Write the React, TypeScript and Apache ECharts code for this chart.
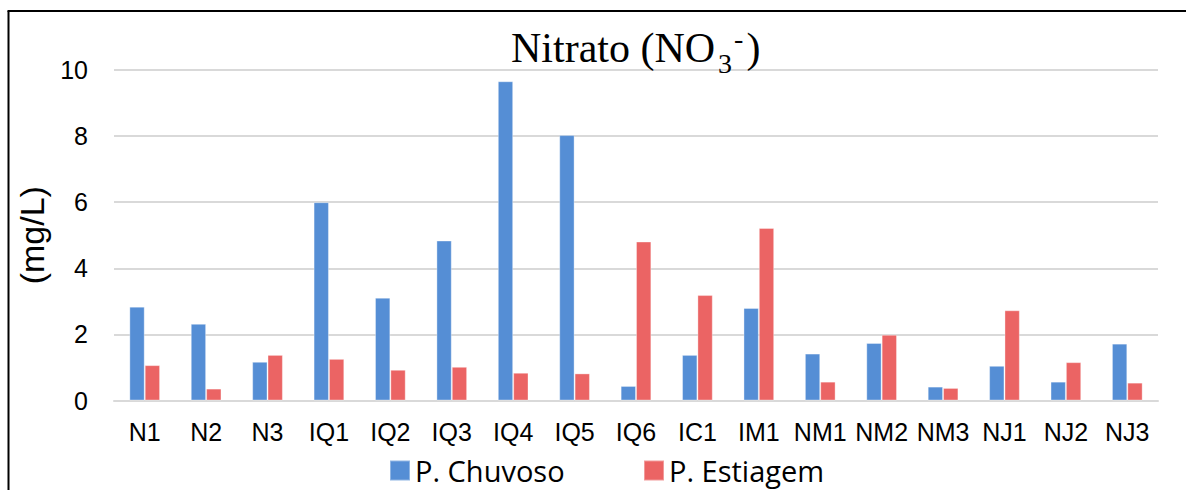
import React, { useEffect, useRef } from "react";
import * as echarts from "echarts";

const categories = ["N1", "N2", "N3", "IQ1", "IQ2", "IQ3", "IQ4", "IQ5", "IQ6", "IC1", "IM1", "NM1", "NM2", "NM3", "NJ1", "NJ2", "NJ3"];
const chuvoso = [2.84, 2.32, 1.17, 6.0, 3.11, 4.84, 9.66, 8.03, 0.44, 1.38, 2.8, 1.42, 1.74, 0.42, 1.05, 0.57, 1.72];
const estiagem = [1.07, 0.36, 1.38, 1.26, 0.93, 1.02, 0.84, 0.82, 4.81, 3.19, 5.22, 0.57, 1.99, 0.38, 2.73, 1.16, 0.54];
const seriesNames = ["P. Chuvoso", "P. Estiagem"];
const yTicks = { min: 0, max: 10, interval: 2 };

export default function App() {
  const ref = useRef<HTMLDivElement>(null);
  useEffect(() => {
    document.body.style.margin = "0";
    const chart = echarts.init(ref.current!, null, { renderer: "svg" });
    const legendText = { fontFamily: "Open Sans", fontSize: 29, color: "#000" };
    const serif = { fontFamily: "Liberation Serif", fontWeight: "normal", color: "#000" };
    chart.setOption({
      animation: false,
      backgroundColor: "#fff",
      title: {
        left: 505,
        top: 14,
        text: "{a|Nitrato (NO}{b|3}{c|-}{a|)}",
        textStyle: {
          fontWeight: "normal",
          rich: {
            a: { ...serif, fontSize: 42, lineHeight: 58, padding: [0, 1, 0, 1] },
            b: { ...serif, fontSize: 28, lineHeight: 28, verticalAlign: "bottom", padding: [0, 1, 0, 2] },
            c: { ...serif, fontSize: 28, lineHeight: 28, verticalAlign: "top", padding: [5, 2, 0, 1] },
          },
        },
      },
      legend: [
        {
          left: 384,
          top: 451,
          itemWidth: 20,
          itemHeight: 20,
          icon: "rect",
          data: [seriesNames[0]],
          textStyle: legendText,
        },
        {
          left: 638,
          top: 451,
          itemWidth: 20,
          itemHeight: 20,
          icon: "rect",
          data: [seriesNames[1]],
          textStyle: legendText,
        },
      ],
      grid: { left: 114, right: 28, top: 70, bottom: 89.5, containLabel: false },
      xAxis: {
        type: "category",
        data: categories,
        axisLine: { lineStyle: { color: "#d9d9d9", width: 2 } },
        axisTick: { length: 9, lineStyle: { color: "#d9d9d9", width: 2 } },
        axisLabel: { fontFamily: "Liberation Sans", fontSize: 25, color: "#000", margin: 19, interval: 0 },
      },
      yAxis: {
        type: "value",
        min: yTicks.min,
        max: yTicks.max,
        interval: yTicks.interval,
        name: "(mg/L)",
        nameLocation: "middle",
        nameRotate: 90,
        nameGap: 54,
        nameTextStyle: { fontFamily: "Liberation Sans", fontSize: 34, color: "#000" },
        axisLine: { show: false },
        axisTick: { show: false },
        axisLabel: { fontFamily: "Liberation Sans", fontSize: 25, color: "#000", margin: 26 },
        splitLine: { lineStyle: { color: "#d9d9d9", width: 2 } },
      },
      series: [
        {
          name: seriesNames[0],
          type: "bar",
          data: chuvoso,
          barGap: "0%",
          barCategoryGap: "50%",
          itemStyle: { color: "#558ED5", borderColor: "rgba(255,255,255,0.35)", borderWidth: 1 },
        },
        {
          name: seriesNames[1],
          type: "bar",
          data: estiagem,
          barGap: "0%",
          barCategoryGap: "50%",
          itemStyle: { color: "#EB6464", borderColor: "rgba(255,255,255,0.35)", borderWidth: 1 },
        },
      ],
      graphic: [
        { type: "line", shape: { x1: 8.5, y1: 11, x2: 8.5, y2: 490 }, style: { stroke: "#000", lineWidth: 2 } },
        { type: "line", shape: { x1: 7.5, y1: 11, x2: 1186, y2: 11 }, style: { stroke: "#000", lineWidth: 2 } },
      ],
    });
    return () => chart.dispose();
  }, []);
  return <div ref={ref} style={{ width: 1186, height: 490 }} />;
}
